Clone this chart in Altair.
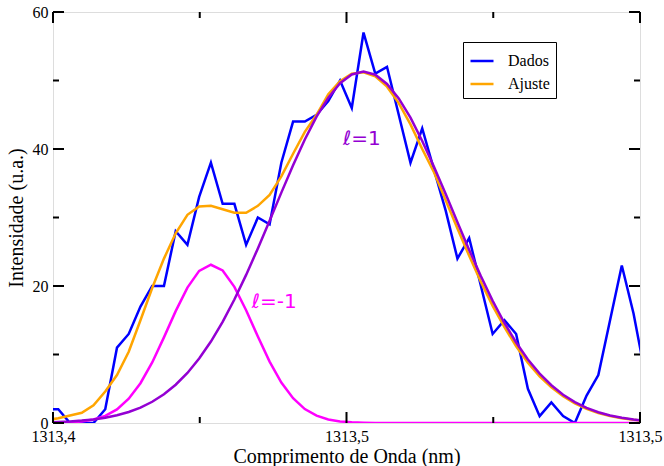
import altair as alt
import pandas as pd

# Wavelength grid of the spectrum (nm)
wavelength = [
    1313.3989, 1313.4009, 1313.4029, 1313.4049, 1313.4069, 1313.4089, 1313.4109,
    1313.4129, 1313.4149, 1313.4169, 1313.4189, 1313.4209, 1313.4229, 1313.4249,
    1313.4269, 1313.4289, 1313.4309, 1313.4329, 1313.4349, 1313.4369, 1313.4389,
    1313.4409, 1313.4429, 1313.4449, 1313.4469, 1313.4489, 1313.4509, 1313.4529,
    1313.4549, 1313.4569, 1313.4589, 1313.4609, 1313.4629, 1313.4649, 1313.4669,
    1313.4689, 1313.4709, 1313.4729, 1313.4749, 1313.4769, 1313.4789, 1313.4809,
    1313.4829, 1313.4849, 1313.4869, 1313.4889, 1313.4909, 1313.4929, 1313.4949,
    1313.4969, 1313.4989, 1313.5009,
]

# Measured intensity (u.a.)
dados = [
    2, 2, 0, 0, 0, 2, 11, 13, 17, 20, 20, 28, 26, 33, 38, 32, 32, 26, 30, 29,
    38, 44, 44, 45, 47, 50, 46, 57, 51, 52, 45, 38, 43, 37, 31, 24, 27, 20, 13,
    15, 13, 5, 1, 3, 1, 0, 4, 7, 15, 23, 16, 7,
]

# Total fitted profile
ajuste = [
    0.4, 0.7, 1.1, 1.5, 2.6, 4.6, 7.0, 10.4, 15.0, 19.7, 24.0, 27.7, 30.4, 31.6,
    31.7, 31.2, 30.7, 30.7, 31.7, 33.3, 36.0, 39.3, 42.5, 45.0, 48.0, 49.9, 51.0,
    51.2, 50.6, 49.1, 46.7, 43.6, 40.0, 36.6, 32.5, 28.4, 24.4, 20.6, 17.1, 14.0,
    11.2, 8.8, 6.8, 5.2, 3.9, 2.86, 2.07, 1.46, 1.02, 0.70, 0.47, 0.31,
]

# Fitted component l = 1
comp_l1 = [
    0.09, 0.15, 0.23, 0.35, 0.52, 0.77, 1.12, 1.60, 2.25, 3.10, 4.20, 5.59, 7.31,
    9.41, 11.89, 14.76, 18.03, 21.62, 25.48, 29.54, 33.63, 37.62, 41.39, 44.73,
    47.50, 49.60, 50.88, 51.30, 50.84, 49.50, 47.38, 44.57, 41.18, 37.42, 33.42,
    29.30, 25.27, 21.43, 17.83, 14.60, 11.75, 9.28, 7.21, 5.51, 4.13, 3.05, 2.21,
    1.57, 1.10, 0.76, 0.51, 0.34,
]

# Fitted component l = -1
comp_lm1 = [
    0.01, 0.04, 0.09, 0.23, 0.51, 1.04, 1.99, 3.54, 5.81, 8.84, 12.50, 16.33,
    19.77, 22.21, 23.10, 22.27, 19.88, 16.46, 12.63, 8.96, 5.90, 3.61, 2.03, 1.07,
    0.52, 0.23, 0.10, 0.04, 0.01, 0, 0, 0, 0, 0, 0, 0, 0, 0, 0, 0, 0, 0, 0, 0, 0,
    0, 0, 0, 0, 0, 0, 0,
]

series_names = ["Dados", "Ajuste"]
series_colors = ["#0000ff", "#ffa500"]

x_major = [1313.40, 1313.45, 1313.50]
x_major_labels = ["1313,4", "1313,5", "1313,5"]
x_minor = [1313.425, 1313.475]
y_major = [0, 20, 40, 60]
y_minor = [10, 30, 50]

annot_text = ["\u2113=1", "\u2113=-1"]
annot_wl = [1313.4526, 1313.4377]
annot_val = [41.5, 17.7]
annot_color = ["#9400d3", "#ff00ff"]

W, H = 587, 411
SERIF = "Liberation Serif"

# ---- data tables -------------------------------------------------------
curves = pd.DataFrame({
    "wl": wavelength * 2,
    "val": dados + ajuste,
    "serie": [series_names[0]] * len(dados) + [series_names[1]] * len(ajuste),
})
l1_df = pd.DataFrame({"wl": wavelength, "val": comp_l1})
lm1_df = pd.DataFrame({"wl": wavelength, "val": comp_lm1})
annot_df = pd.DataFrame({"wl": annot_wl, "val": annot_val,
                         "txt": annot_text, "col": annot_color})
xmaj_df = pd.DataFrame({"wl": x_major})
xmin_df = pd.DataFrame({"wl": x_minor})
ymaj_df = pd.DataFrame({"val": y_major})
ymin_df = pd.DataFrame({"val": y_minor})

# ---- shared scales / axes -------------------------------------------------
label_expr = ""
for v, lab in zip(x_major, x_major_labels):
    label_expr += f"abs(datum.value - {v}) < 1e-6 ? '{lab}' : "
label_expr += "''"

x_scale = alt.Scale(domain=[x_major[0], x_major[-1]], nice=False, zero=False)
y_scale = alt.Scale(domain=[y_major[0], y_major[-1]], nice=False)

x_axis = alt.Axis(
    values=x_major, labelExpr=label_expr, ticks=False, tickSize=0, domain=False,
    grid=False, labelFlush=False, labelOverlap=False,
    labelFont=SERIF, labelFontSize=16, labelColor="black", labelPadding=5,
    title="Comprimento de Onda (nm)", titleFont=SERIF, titleFontSize=20,
    titleFontWeight="normal", titleColor="black", titleY=33,
    titleBaseline="middle",
)
y_axis = alt.Axis(
    values=y_major, ticks=False, tickSize=0, domain=False, grid=False,
    labelFont=SERIF, labelFontSize=16, labelColor="black", labelPadding=5,
    title="Intensidade (u.a.)", titleFont=SERIF, titleFontSize=20,
    titleFontWeight="normal", titleColor="black", titleX=-37,
    titleBaseline="middle",
)


def X():
    return alt.X("wl:Q", scale=x_scale, axis=x_axis)


def Y():
    return alt.Y("val:Q", scale=y_scale, axis=y_axis)


# ---- curves ---------------------------------------------------------------
legend = alt.Legend(
    title=None, orient="none", legendX=410, legendY=30, direction="vertical",
    strokeColor="black", fillColor="white", padding=6, symbolType="stroke",
    symbolSize=529, symbolStrokeWidth=2.5, labelFont=SERIF, labelFontSize=16,
    labelColor="black", labelOffset=13, rowPadding=2,
)

data_lines = alt.Chart(curves).mark_line(strokeWidth=2.5, clip=True).encode(
    x=X(), y=Y(),
    color=alt.Color("serie:N", sort=series_names,
                    scale=alt.Scale(domain=series_names, range=series_colors),
                    legend=legend),
    order=alt.Order("wl:Q"),
)

lm1_line = alt.Chart(lm1_df).mark_line(strokeWidth=2.5, clip=True, color="#ff00ff").encode(
    x=X(), y=Y())
l1_line = alt.Chart(l1_df).mark_line(strokeWidth=2.5, clip=True, color="#9400d3").encode(
    x=X(), y=Y())

labels = alt.Chart(annot_df).mark_text(font="DejaVu Sans", fontSize=20).encode(
    x=X(), y=Y(), text="txt:N", color=alt.Color("col:N", scale=None))

# ---- inward ticks on all four sides ---------------------------------------
MAJ, MIN = 11, 6
tick_style = dict(color="black", strokeWidth=2)
ticks = [
    alt.Chart(xmaj_df).mark_rule(**tick_style).encode(x=X(), y=alt.value(H), y2=alt.value(H - MAJ)),
    alt.Chart(xmaj_df).mark_rule(**tick_style).encode(x=X(), y=alt.value(0), y2=alt.value(MAJ)),
    alt.Chart(xmin_df).mark_rule(**tick_style).encode(x=X(), y=alt.value(H), y2=alt.value(H - MIN)),
    alt.Chart(xmin_df).mark_rule(**tick_style).encode(x=X(), y=alt.value(0), y2=alt.value(MIN)),
    alt.Chart(ymaj_df).mark_rule(**tick_style).encode(y=Y(), x=alt.value(0), x2=alt.value(MAJ)),
    alt.Chart(ymaj_df).mark_rule(**tick_style).encode(y=Y(), x=alt.value(W), x2=alt.value(W - MAJ)),
    alt.Chart(ymin_df).mark_rule(**tick_style).encode(y=Y(), x=alt.value(0), x2=alt.value(MIN)),
    alt.Chart(ymin_df).mark_rule(**tick_style).encode(y=Y(), x=alt.value(W), x2=alt.value(W - MIN)),
]

chart = alt.layer(
    data_lines, lm1_line, l1_line, labels, *ticks
).properties(
    width=W, height=H,
    padding={"left": 53, "top": 12, "right": 24, "bottom": 43},
    autosize=alt.AutoSizeParams(type="none"),
).configure_view(
    stroke="black", strokeWidth=2,
).configure(background="white")

chart.save("out.html", embed_options={"renderer": "svg", "actions": False})
